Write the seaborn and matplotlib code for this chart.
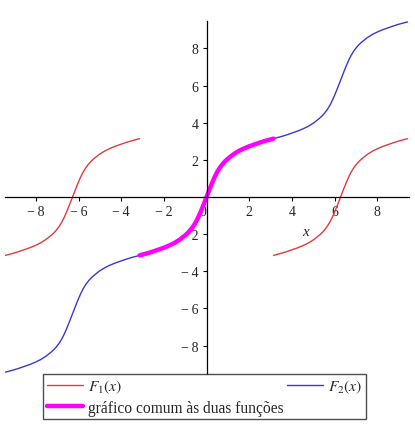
import numpy as np
import seaborn as sns
import matplotlib.pyplot as plt
from matplotlib.ticker import MultipleLocator

# one branch of F1 on (-pi, pi)
base_x = [-3.14, -2.75, -2.5, -2.25, -2.0, -1.75, -1.5, -1.25, -1.0, -0.875, -0.75, -0.625, -0.5,
          -0.375, -0.25, -0.125, 0.0, 0.125, 0.25, 0.375, 0.5, 0.625, 0.75, 0.875, 1.0, 1.25,
          1.5, 1.75, 2.0, 2.25, 2.5, 2.75, 3.14]
base_y = [-3.14, -3.02, -2.93, -2.83, -2.73, -2.61, -2.47, -2.29, -2.06, -1.93, -1.77, -1.58, -1.35,
          -1.06, -0.73, -0.37, 0.0, 0.37, 0.73, 1.06, 1.35, 1.58, 1.77, 1.93, 2.06, 2.29,
          2.47, 2.61, 2.73, 2.83, 2.93, 3.02, 3.14]
# branches are 2*pi apart
shifts = [-6.283, 0.0, 6.283]

x_ticks = [-8, -6, -4, -2, 0, 2, 4, 6, 8]
y_ticks = [-8, -6, -4, -2, 2, 4, 6, 8]
lab_f1 = r"$F_1(x)$"
lab_f2 = r"$F_2(x)$"
lab_common = "gráfico comum às duas funções"

sns.set_style("white")
plt.rcParams["font.family"] = ["Liberation Serif", "DejaVu Serif"]
plt.rcParams["mathtext.fontset"] = "stix"

fig = plt.figure(figsize=(4.15, 4.27), dpi=100)
ax = fig.add_axes([0.012, 0.122, 0.974, 0.826])

bx = np.array(base_x)
by = np.array(base_y)

# F2: continuous, blue
blue_x = np.concatenate([bx + s for s in shifts])
blue_y = np.concatenate([by + s for s in shifts])
sns.lineplot(x=blue_x, y=blue_y, color="#3838d4", lw=1.0, sort=False, estimator=None, ax=ax)
h_blue = ax.get_lines()[-1]

# F1: red on the outer branches
sns.lineplot(x=bx + shifts[0], y=by, color="#e23a3a", lw=1.0, sort=False, estimator=None, ax=ax)
h_red = ax.get_lines()[-1]
sns.lineplot(x=bx + shifts[2], y=by, color="#e23a3a", lw=1.0, sort=False, estimator=None, ax=ax)

# common part
sns.lineplot(x=bx, y=by, color="#ff00ff", lw=3.2, sort=False, estimator=None, ax=ax)
h_mag = ax.get_lines()[-1]

ax.set_xlim(-9.45, 9.5)
ax.set_ylim(-9.52, 9.46)

for s in ["top", "right"]:
    ax.spines[s].set_visible(False)
ax.spines["left"].set_position("zero")
ax.spines["bottom"].set_position("zero")
for s in ["left", "bottom"]:
    ax.spines[s].set_color("black")
    ax.spines[s].set_linewidth(0.9)

ax.set_xticks(x_ticks)
ax.set_yticks(y_ticks)
ax.set_xticklabels(["\u2212\u2009" + str(-t) if t < 0 else str(t) for t in x_ticks])
ax.set_yticklabels(["\u2212\u2009" + str(-t) if t < 0 else str(t) for t in y_ticks])
ax.xaxis.set_minor_locator(MultipleLocator(1))
ax.yaxis.set_minor_locator(MultipleLocator(1))
ax.tick_params(which="major", direction="out", length=3.2, width=0.8, color="black",
               labelsize=10, pad=2.5)
ax.tick_params(which="minor", direction="out", length=2.4, width=0.7, color="black")
ax.tick_params(axis="x", bottom=True)
ax.tick_params(axis="y", left=True)
for lbl in ax.get_xticklabels():
    if lbl.get_text() == "0":
        lbl.set_horizontalalignment("right")

ax.text(4.65, -1.85, "x", fontsize=11, fontstyle="italic", ha="center", va="center")

leg = fig.legend([h_red, h_mag, h_blue], [lab_f1, lab_common, lab_f2],
                 loc="upper left", bbox_to_anchor=(0.104, 0.122), ncol=2,
                 fontsize=11.2, frameon=True, fancybox=False, handlelength=2.3,
                 handletextpad=0.35, columnspacing=0.2, labelspacing=0.28,
                 borderpad=0.25, borderaxespad=0)
leg.get_frame().set_edgecolor("#222222")
leg.get_frame().set_linewidth(1.0)

fig.savefig("out.png", dpi=100)
